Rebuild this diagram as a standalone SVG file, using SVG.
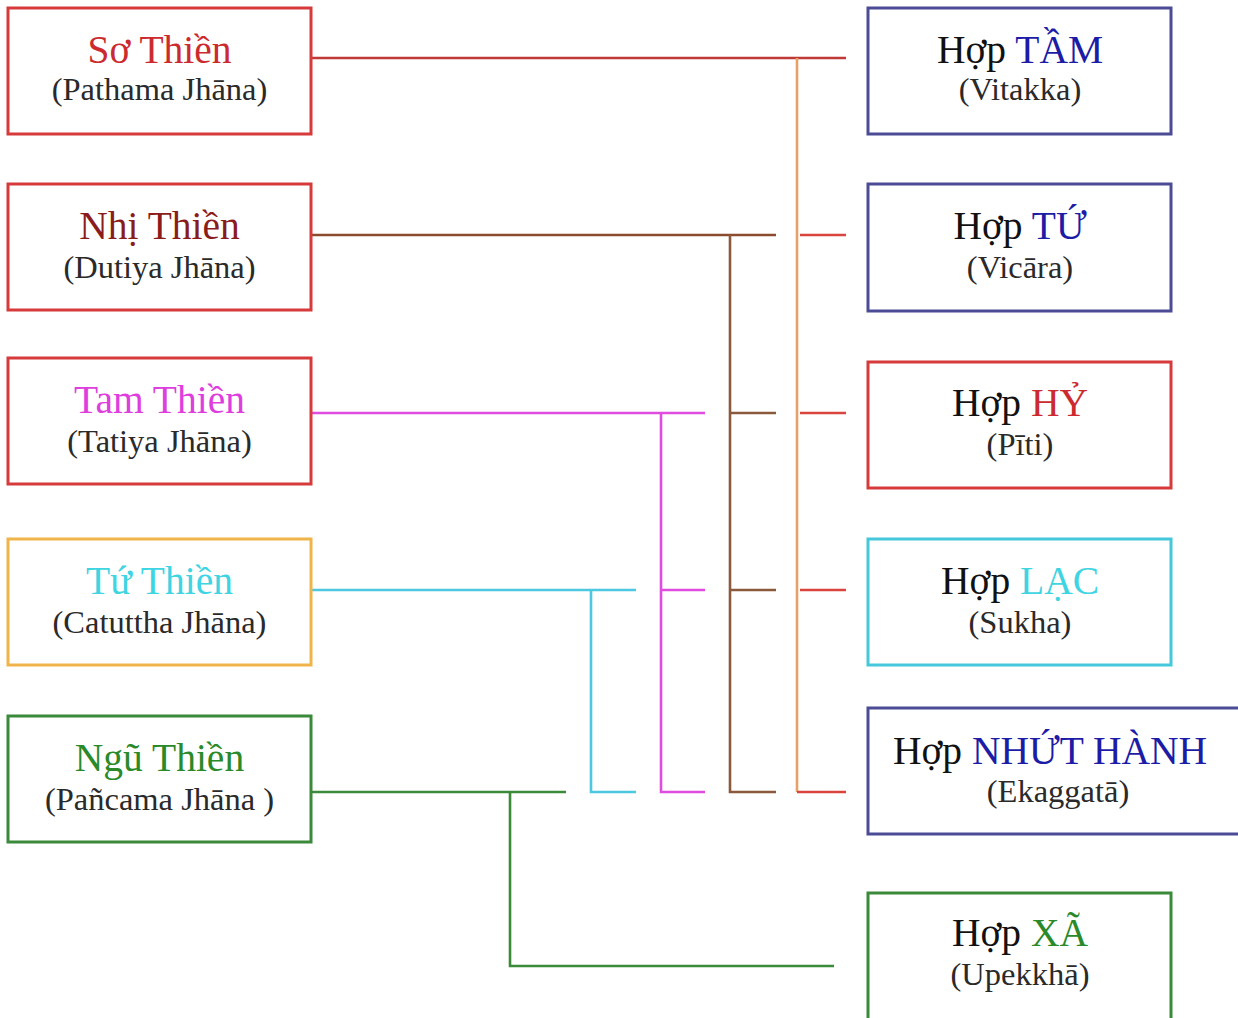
<svg xmlns="http://www.w3.org/2000/svg" width="1238" height="1018" viewBox="0 0 1238 1018">
  <style>
    text { font-family: "Liberation Serif", "Times New Roman", serif; text-anchor: middle; }
    .title { font-size: 39.5px; fill: #111; }
    .sub { font-size: 32.5px; fill: #2a2a2a; }
    .box { fill: #fff; stroke-width: 3; }
    .b-red { stroke: #d63a3a; }
    .b-orange { stroke: #f0b44a; }
    .b-green { stroke: #3a8a3a; }
    .b-navy { stroke: #4b4b96; }
    .b-cyan { stroke: #45c8dc; }
    .c-red { fill: #cc2a2e; }
    .c-maroon { fill: #8b1c1c; }
    .c-magenta { fill: #de3ede; }
    .c-cyan { fill: #3fd4e2; }
    .c-green { fill: #2a8a2a; }
    .c-navy { fill: #1c1ca6; }
    .wire { fill: none; stroke-width: 2.6; }
  </style>

  <rect width="1238" height="1018" fill="#fff"/>

  <!-- connectors -->
  <g id="connectors">
    <path class="wire" stroke="#bf3a36" d="M311 58 H846"/>
    <path class="wire" stroke="#8b4b2f" d="M311 235 H776"/>
    <path class="wire" stroke="#e04ce0" d="M311 413 H705"/>
    <path class="wire" stroke="#4cc8e0" d="M311 590 H636"/>
    <path class="wire" stroke="#3a8a3a" d="M311 792 H566"/>
    <path class="wire" stroke="#3a8a3a" d="M510 792 V966 H834"/>
    <path class="wire" stroke="#4cc8e0" d="M591 590 V792 H636"/>
    <path class="wire" stroke="#e04ce0" d="M661 413 V792 H705 M661 590 H705"/>
    <path class="wire" stroke="#8b5a3c" d="M730 235 V792 H776 M730 413 H776 M730 590 H776"/>
    <path class="wire" stroke="#e9a066" d="M797 58 V792"/>
    <path class="wire" stroke="#d9453c" d="M800 235 H846 M800 413 H846 M800 590 H846 M797 792 H846"/>
  </g>

  <!-- jhāna levels -->
  <g id="so-thien">
    <rect class="box b-red" x="8" y="8" width="303" height="126"/>
    <text class="title c-red" x="159.5" y="63">Sơ Thiền</text>
    <text class="sub" x="159.5" y="100">(Pathama Jhāna)</text>
  </g>
  <g id="nhi-thien">
    <rect class="box b-red" x="8" y="184" width="303" height="126"/>
    <text class="title c-maroon" x="159.5" y="239">Nhị Thiền</text>
    <text class="sub" x="159.5" y="278">(Dutiya Jhāna)</text>
  </g>
  <g id="tam-thien">
    <rect class="box b-red" x="8" y="358" width="303" height="126"/>
    <text class="title c-magenta" x="159.5" y="413">Tam Thiền</text>
    <text class="sub" x="159.5" y="452">(Tatiya Jhāna)</text>
  </g>
  <g id="tu-thien">
    <rect class="box b-orange" x="8" y="539" width="303" height="126"/>
    <text class="title c-cyan" x="159.5" y="594">Tứ Thiền</text>
    <text class="sub" x="159.5" y="633">(Catuttha Jhāna)</text>
  </g>
  <g id="ngu-thien">
    <rect class="box b-green" x="8" y="716" width="303" height="126"/>
    <text class="title c-green" x="159.5" y="771">Ngũ Thiền</text>
    <text class="sub" x="159.5" y="810">(Pañcama Jhāna )</text>
  </g>

  <!-- jhāna factors -->
  <g id="tam">
    <rect class="box b-navy" x="868" y="8" width="303" height="126"/>
    <text class="title" x="1020" y="63">Hợp <tspan class="c-navy">TẦM</tspan></text>
    <text class="sub" x="1020" y="100">(Vitakka)</text>
  </g>
  <g id="tu">
    <rect class="box b-navy" x="868" y="184" width="303" height="127"/>
    <text class="title" x="1020" y="239">Hợp <tspan class="c-navy">TỨ</tspan></text>
    <text class="sub" x="1020" y="278">(Vicāra)</text>
  </g>
  <g id="hy">
    <rect class="box b-red" x="868" y="362" width="303" height="126"/>
    <text class="title" x="1020" y="416">Hợp <tspan class="c-red">HỶ</tspan></text>
    <text class="sub" x="1020" y="455">(Pīti)</text>
  </g>
  <g id="lac">
    <rect class="box b-cyan" x="868" y="539" width="303" height="126"/>
    <text class="title" x="1020" y="594">Hợp <tspan class="c-cyan">LẠC</tspan></text>
    <text class="sub" x="1020" y="633">(Sukha)</text>
  </g>
  <g id="nhut-hanh">
    <rect class="box b-navy" x="868" y="708" width="374" height="126"/>
    <text class="title" x="1050" y="764">Hợp <tspan class="c-navy">NHỨT HÀNH</tspan></text>
    <text class="sub" x="1058" y="802">(Ekaggatā)</text>
  </g>
  <g id="xa">
    <rect class="box b-green" x="868" y="893" width="303" height="140"/>
    <text class="title" x="1020" y="946">Hợp <tspan class="c-green">XÃ</tspan></text>
    <text class="sub" x="1020" y="985">(Upekkhā)</text>
  </g>
</svg>
